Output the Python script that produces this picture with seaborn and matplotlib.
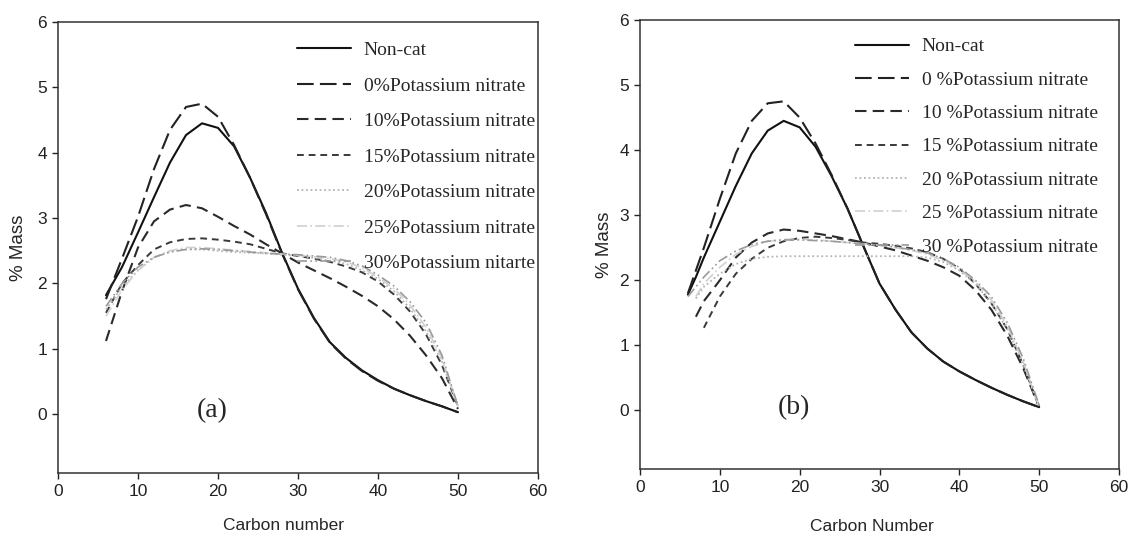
import matplotlib
matplotlib.use("Agg")
import numpy as np
import pandas as pd
import matplotlib.pyplot as plt
import seaborn as sns

nan = np.nan

# ---------------- data: panel (a) ----------------
carbon_a = [6, 8, 10, 12, 14, 16, 18, 20, 22, 24, 26, 28, 30, 32, 34, 36, 38, 40, 42, 44, 46, 48, 50]
a_noncat = [1.82, 2.25, 2.78, 3.32, 3.85, 4.27, 4.45, 4.38, 4.10, 3.62, 3.08, 2.47, 1.92, 1.47, 1.10, 0.86, 0.67, 0.52, 0.39, 0.29, 0.20, 0.12, 0.03]
a_k0 = [1.76, 2.38, 3.02, 3.75, 4.35, 4.70, 4.75, 4.55, 4.12, 3.62, 3.06, 2.46, 1.91, 1.46, 1.09, 0.85, 0.66, 0.51, 0.39, 0.29, 0.20, 0.12, 0.03]
a_k10 = [1.12, 1.88, 2.55, 2.95, 3.13, 3.20, 3.15, 3.02, 2.88, 2.75, 2.60, 2.46, 2.32, 2.20, 2.08, 1.95, 1.81, 1.65, 1.45, 1.20, 0.90, 0.55, 0.08]
a_k15 = [1.55, 2.00, 2.28, 2.52, 2.63, 2.68, 2.69, 2.67, 2.64, 2.60, 2.53, 2.46, 2.42, 2.38, 2.33, 2.26, 2.17, 2.03, 1.83, 1.57, 1.22, 0.75, 0.12]
a_k20 = [1.60, 1.95, 2.20, 2.40, 2.49, 2.52, 2.52, 2.50, 2.48, 2.47, 2.46, 2.44, 2.42, 2.39, 2.35, 2.30, 2.20, 2.07, 1.88, 1.62, 1.27, 0.80, 0.12]
a_k25 = [1.50, 1.90, 2.20, 2.40, 2.50, 2.55, 2.55, 2.53, 2.51, 2.49, 2.47, 2.45, 2.43, 2.41, 2.38, 2.33, 2.24, 2.10, 1.92, 1.67, 1.33, 0.85, 0.12]
a_k30 = [1.65, 2.00, 2.25, 2.40, 2.48, 2.52, 2.53, 2.52, 2.50, 2.48, 2.46, 2.45, 2.44, 2.42, 2.40, 2.35, 2.27, 2.13, 1.96, 1.72, 1.40, 0.90, 0.12]

labels_a = ["Non-cat", "0%Potassium nitrate", "10%Potassium nitrate", "15%Potassium nitrate",
            "20%Potassium nitrate", "25%Potassium nitrate", "30%Potassium nitarte"]

# ---------------- data: panel (b) ----------------
carbon_b = [6, 7, 8, 10, 12, 14, 16, 18, 20, 22, 24, 26, 28, 30, 32, 34, 36, 38, 40, 42, 44, 46, 48, 50]
b_noncat = [1.78, 2.05, 2.35, 2.90, 3.45, 3.95, 4.30, 4.45, 4.35, 4.05, 3.60, 3.10, 2.52, 1.95, 1.55, 1.20, 0.95, 0.75, 0.60, 0.47, 0.35, 0.24, 0.14, 0.05]
b_k0 = [1.80, 2.15, 2.50, 3.25, 3.95, 4.45, 4.72, 4.75, 4.50, 4.10, 3.62, 3.10, 2.52, 1.95, 1.55, 1.20, 0.95, 0.75, 0.60, 0.47, 0.35, 0.24, 0.14, 0.05]
b_k10 = [nan, 1.44, 1.68, 2.00, 2.35, 2.58, 2.72, 2.78, 2.76, 2.72, 2.68, 2.63, 2.58, 2.52, 2.46, 2.38, 2.30, 2.20, 2.07, 1.85, 1.55, 1.15, 0.65, 0.05]
b_k15 = [nan, nan, 1.27, 1.75, 2.10, 2.33, 2.50, 2.60, 2.65, 2.67, 2.65, 2.62, 2.58, 2.56, 2.53, 2.49, 2.43, 2.33, 2.18, 1.95, 1.65, 1.25, 0.70, 0.05]
b_k20 = [nan, 1.72, 1.90, 2.10, 2.25, 2.33, 2.36, 2.37, 2.37, 2.37, 2.37, 2.37, 2.37, 2.37, 2.37, 2.37, 2.35, 2.28, 2.15, 1.95, 1.65, 1.25, 0.70, 0.05]
b_k25 = [nan, 1.75, 1.95, 2.20, 2.40, 2.52, 2.60, 2.63, 2.63, 2.62, 2.60, 2.58, 2.56, 2.54, 2.50, 2.46, 2.40, 2.30, 2.17, 1.98, 1.70, 1.30, 0.75, 0.05]
b_k30 = [1.75, 1.90, 2.05, 2.30, 2.45, 2.55, 2.60, 2.62, 2.62, 2.61, 2.60, 2.58, 2.56, 2.54, 2.51, 2.47, 2.42, 2.33, 2.20, 2.00, 1.75, 1.35, 0.80, 0.08]

labels_b = ["Non-cat", "0 %Potassium nitrate", "10 %Potassium nitrate", "15 %Potassium nitrate",
            "20 %Potassium nitrate", "25 %Potassium nitrate", "30 %Potassium nitrate"]

panel_a = [a_noncat, a_k0, a_k10, a_k15, a_k20, a_k25, a_k30]
panel_b = [b_noncat, b_k0, b_k10, b_k15, b_k20, b_k25, b_k30]

# ---------------- styles ----------------
colors = ["#111111", "#222222", "#2a2a2a", "#3a3a3a", "#b5b5b5", "#d0d0d0", "#9a9a9a"]
styles = ["-", (0, (8, 3)), (0, (5.5, 3)), (0, (3.5, 2.5)), (0, (1, 1.5)), (0, (6, 2, 1, 2)), (0, (6, 2, 1, 2, 1, 2))]
widths = [1.5, 1.5, 1.5, 1.4, 1.3, 1.2, 1.2]

sns.set_style("ticks")
plt.rcParams["font.family"] = ["Liberation Sans", "DejaVu Sans"]

fig = plt.figure(figsize=(11.3, 5.44), dpi=100)
ax_a = fig.add_axes([58 / 1130, 1 - 473 / 544, 480 / 1130, 451 / 544])
ax_b = fig.add_axes([640 / 1130, 1 - 469 / 544, 479 / 1130, 449 / 544])


def draw(ax, carbon, series, labels, tag, xlabel, leg_anchor, spacing, ylab_x, xlab_pos):
    for vals, lab, c, ls, lw in zip(series, labels, colors, styles, widths):
        df = pd.DataFrame({"carbon": carbon, "mass": vals})
        sns.lineplot(data=df, x="carbon", y="mass", ax=ax, color=c, linestyle=ls,
                     linewidth=lw, label=lab, estimator=None, sort=False)
    ax.set_xlim(0, 60)
    ax.set_ylim(-0.9, 6)
    ax.set_xticks(range(0, 61, 10))
    ax.set_yticks(range(0, 7))
    for s in ax.spines.values():
        s.set_visible(True)
        s.set_linewidth(1.1)
        s.set_color("#333333")
    ax.tick_params(direction="out", length=4, width=1, labelsize=12.5, colors="#222222", pad=4)
    ax.set_ylabel("% Mass", fontsize=13.5)
    ax.set_xlabel(xlabel, fontsize=12.5)
    ax.yaxis.set_label_coords(ylab_x, 0.5)
    ax.xaxis.set_label_coords(*xlab_pos)
    ax.text(19.3, 0.05, tag, fontsize=20, family="Liberation Serif", ha="center", va="center")
    ax.legend(loc="upper left", bbox_to_anchor=leg_anchor, frameon=False, borderpad=0,
              handlelength=2.8, handletextpad=0.65, labelspacing=spacing,
              prop={"family": "Liberation Serif", "size": 14})


draw(ax_a, carbon_a, panel_a, labels_a, "(a)", "Carbon number", (0.477, 0.978), 0.92, -0.064, (0.47, -0.1))
draw(ax_b, carbon_b, panel_b, labels_b, "(b)", "Carbon Number", (0.428, 0.982), 0.81, -0.056, (0.484, -0.112))

fig.savefig("out.png", dpi=100)
